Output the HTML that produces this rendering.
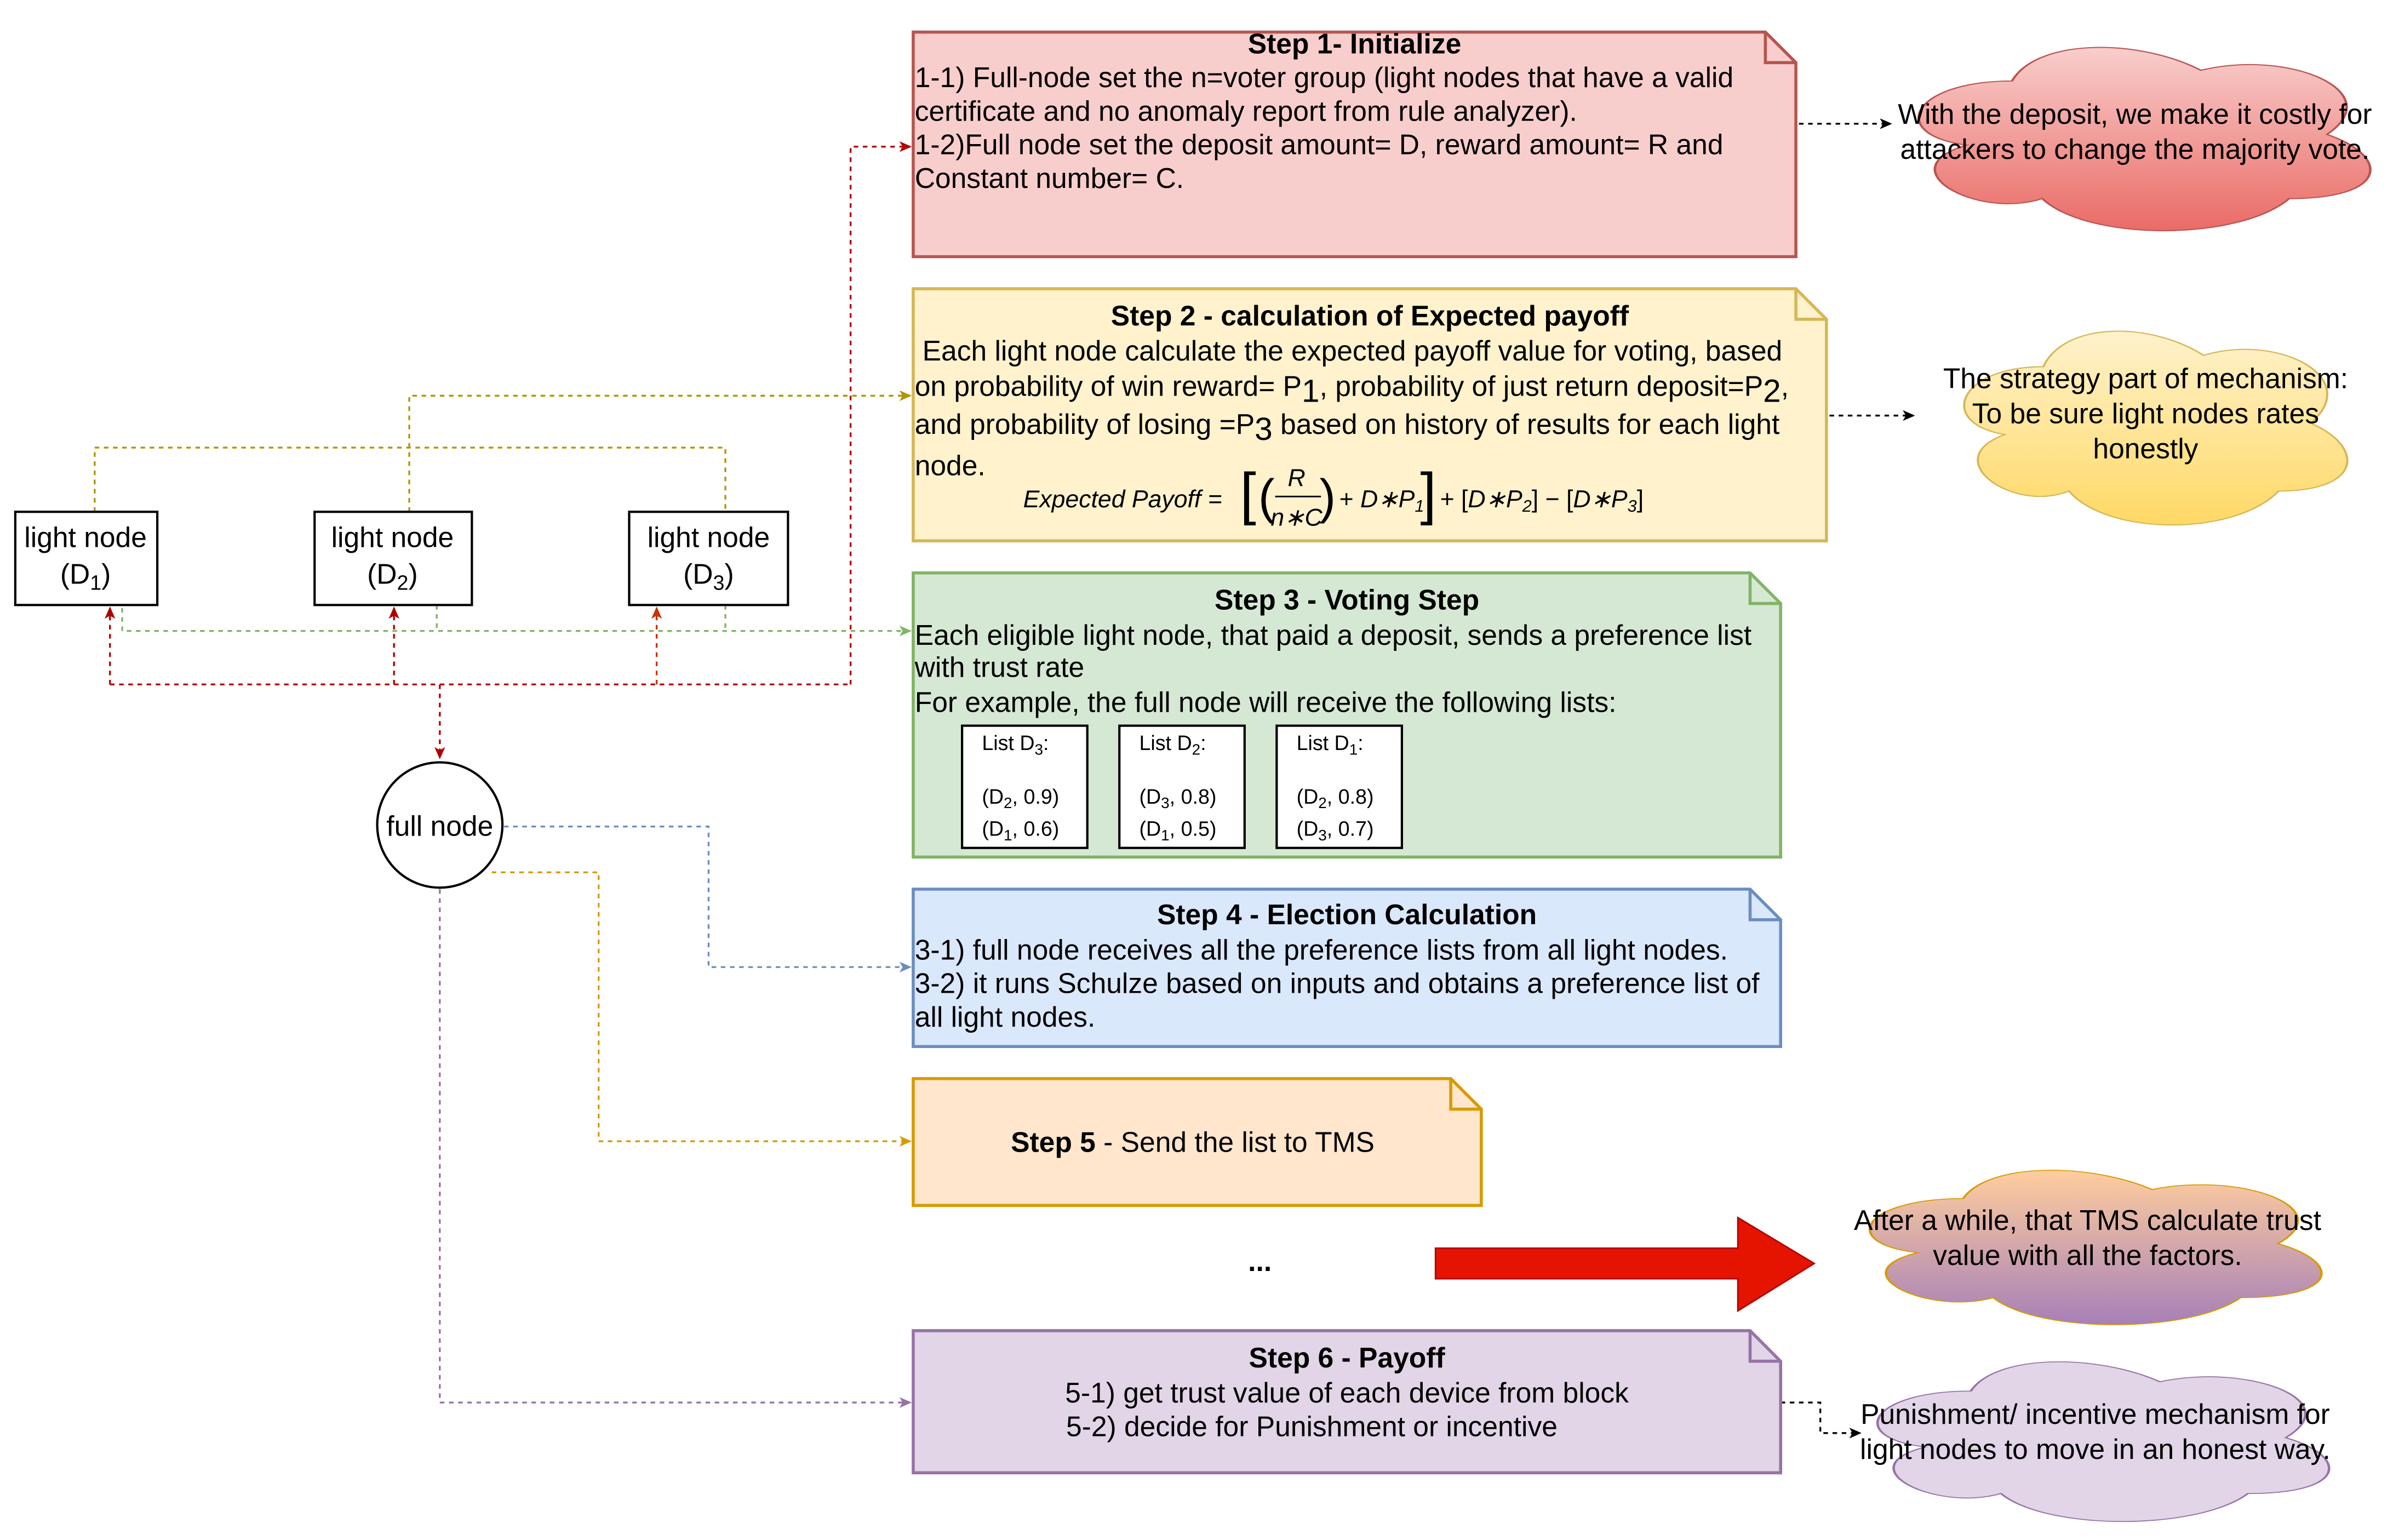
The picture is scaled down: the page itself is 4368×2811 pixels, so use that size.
<!DOCTYPE html>
<html><head><meta charset="utf-8"><style>body{margin:0;background:#fff}svg{display:block}text{font-family:"Liberation Sans",sans-serif;fill:#000}</style></head>
<body>
<svg width="4368" height="2811" viewBox="0 0 1567 1008" preserveAspectRatio="none" xmlns="http://www.w3.org/2000/svg">
<defs>
<marker id="ar" markerWidth="8" markerHeight="8" refX="7" refY="4" orient="auto" markerUnits="userSpaceOnUse"><path d="M0,0.5 L8,4 L0,7.5 L2,4 Z" fill="context-stroke"/></marker>
<linearGradient id="g1" x1="0" y1="0" x2="0" y2="1"><stop offset="0" stop-color="#f8cecc"/><stop offset="1" stop-color="#ea6b66"/></linearGradient>
<linearGradient id="g2" x1="0" y1="0" x2="0" y2="1"><stop offset="0" stop-color="#fff2cc"/><stop offset="1" stop-color="#ffd966"/></linearGradient>
<linearGradient id="g3" x1="0" y1="0" x2="0" y2="1"><stop offset="0" stop-color="#ffcd9e"/><stop offset="1" stop-color="#a680b8"/></linearGradient>
<path id="cl" d="M0.25,0.25 C0.05,0.25 0,0.5 0.16,0.55 C0,0.66 0.18,0.9 0.31,0.8 C0.4,1 0.7,1 0.8,0.8 C1,0.8 1,0.6 0.875,0.5 C1,0.3 0.8,0.1 0.625,0.2 C0.5,0.05 0.3,0.05 0.25,0.25 Z"/>
</defs>
<g fill="none" stroke-width="1.2" stroke-dasharray="3,3">
<path d="M288,448 L288,496" stroke="#b20000" marker-end="url(#ar)"/>
<path d="M72,448 L557,448" stroke="#b20000"/>
<path d="M72,448 L72,398" stroke="#b20000" marker-end="url(#ar)"/>
<path d="M258,448 L258,398" stroke="#b20000" marker-end="url(#ar)"/>
<path d="M430,448 L430,398" stroke="#c73500" marker-end="url(#ar)"/>
<path d="M557,448 L557,96 L596,96" stroke="#b20000" marker-end="url(#ar)"/>
<path d="M62,335 L62,293 L475,293 L475,335" stroke="#b09500"/>
<path d="M268,335 L268,259 L596,259" stroke="#b09500" marker-end="url(#ar)"/>
<path d="M80,398 L80,413 L596,413" stroke="#82b366" marker-end="url(#ar)"/>
<path d="M286,396 L286,413" stroke="#82b366"/>
<path d="M475,396 L475,413" stroke="#82b366"/>
<path d="M330,541 L464,541 L464,633 L596,633" stroke="#6c8ebf" marker-end="url(#ar)"/>
<path d="M322,571 L392,571 L392,747 L596,747" stroke="#d79b00" marker-end="url(#ar)"/>
<path d="M288,582 L288,918 L596,918" stroke="#9673a6" marker-end="url(#ar)"/>
<path d="M1178,81 L1238,81" stroke="#000" marker-end="url(#ar)"/>
<path d="M1198,272 L1253,272" stroke="#000" marker-end="url(#ar)"/>
<path d="M1166,918 L1192,918 L1192,938 L1218,938" stroke="#000" marker-end="url(#ar)"/>
</g>
<g stroke="#000" stroke-width="1.5" fill="#fff">
<rect x="10" y="335" width="93" height="61"/>
<rect x="206" y="335" width="103" height="61"/>
<rect x="412" y="335" width="104" height="61"/>
<circle cx="288" cy="540" r="41"/>
</g>
<g font-size="18.5" text-anchor="middle">
<text x="56" y="358">light node</text><text x="56" y="382">(D<tspan font-size="13.5" dy="4">1</tspan><tspan dy="-4">)</tspan></text>
<text x="257" y="358">light node</text><text x="257" y="382">(D<tspan font-size="13.5" dy="4">2</tspan><tspan dy="-4">)</tspan></text>
<text x="464" y="358">light node</text><text x="464" y="382">(D<tspan font-size="13.5" dy="4">3</tspan><tspan dy="-4">)</tspan></text>
<text x="288" y="547">full node</text>
</g>
<g stroke-width="2">
<path d="M598,21 H1156 L1176,41 V168 H598 Z" fill="#f8cecc" stroke="#b85450"/><path d="M1156,21 V41 H1176" fill="none" stroke="#b85450"/>
<path d="M598,189 H1176 L1196,209 V354 H598 Z" fill="#fff2cc" stroke="#d6b656"/><path d="M1176,189 V209 H1196" fill="none" stroke="#d6b656"/>
<path d="M598,375 H1146 L1166,395 V561 H598 Z" fill="#d5e8d4" stroke="#82b366"/><path d="M1146,375 V395 H1166" fill="none" stroke="#82b366"/>
<path d="M598,582 H1146 L1166,602 V685 H598 Z" fill="#dae8fc" stroke="#6c8ebf"/><path d="M1146,582 V602 H1166" fill="none" stroke="#6c8ebf"/>
<path d="M598,706 H950 L970,726 V789 H598 Z" fill="#ffe6cc" stroke="#d79b00"/><path d="M950,706 V726 H970" fill="none" stroke="#d79b00"/>
<path d="M598,871 H1146 L1166,891 V964 H598 Z" fill="#e1d5e7" stroke="#9673a6"/><path d="M1146,871 V891 H1166" fill="none" stroke="#9673a6"/>
</g>
<g font-size="18.5">
<text x="887" y="35" text-anchor="middle" font-weight="bold">Step 1- Initialize</text>
<text x="599" y="57">1-1) Full-node set the n=voter group (light nodes that have a valid</text>
<text x="599" y="79">certificate and no anomaly report from rule analyzer).</text>
<text x="599" y="101">1-2)Full node set the deposit amount= D, reward amount= R and</text>
<text x="599" y="123">Constant number= C.</text>
<text x="897" y="213" text-anchor="middle" font-weight="bold">Step 2 - calculation of Expected payoff</text>
<text x="604" y="236">Each light node calculate the expected payoff value for voting, based</text>
<text x="599" y="259">on probability of win reward= P<tspan font-size="21" dy="4">1</tspan><tspan dy="-4">, probability of just return deposit=P</tspan><tspan font-size="21" dy="4">2</tspan><tspan dy="-4">,</tspan></text>
<text x="599" y="284">and probability of losing =P<tspan font-size="21" dy="4">3</tspan><tspan dy="-4">  based on history of results for each light</tspan></text>
<text x="599" y="311">node.</text>
<text x="882" y="399" text-anchor="middle" font-weight="bold">Step 3 - Voting Step</text>
<text x="599" y="422">Each eligible light node, that paid a deposit, sends a preference list</text>
<text x="599" y="443">with trust rate</text>
<text x="599" y="466">For example, the full node will receive the following lists:</text>
<text x="882" y="605" text-anchor="middle" font-weight="bold">Step 4 - Election Calculation</text>
<text x="599" y="628">3-1) full node receives all the preference lists from all light nodes.</text>
<text x="599" y="650">3-2) it runs Schulze based on inputs and obtains a preference list of</text>
<text x="599" y="672">all light nodes.</text>
<text x="781" y="754" text-anchor="middle"><tspan font-weight="bold">Step 5</tspan> -  Send the list to TMS</text>
<text x="882" y="895" text-anchor="middle" font-weight="bold">Step 6 - Payoff</text>
<text x="882" y="918" text-anchor="middle">5-1) get trust value of each device from block</text>
<text x="859" y="940" text-anchor="middle">5-2) decide for Punishment or incentive</text>
<text x="825" y="832" text-anchor="middle" font-weight="bold">...</text>
</g>
<g font-family="Liberation Serif" font-size="16" font-style="italic">
<text x="670" y="332" font-family="Liberation Serif">Expected Payoff =</text>
<text x="812" y="336" font-size="38" font-style="normal" font-family="Liberation Serif">[</text>
<text x="824" y="336" font-size="32" font-style="normal" font-family="Liberation Serif">(</text>
<text x="849" y="318" text-anchor="middle" font-family="Liberation Serif">R</text>
<line x1="835" y1="325" x2="865" y2="325" stroke="#000" stroke-width="1"/>
<text x="849" y="344" text-anchor="middle" font-family="Liberation Serif">n∗C</text>
<text x="864" y="336" font-size="32" font-style="normal" font-family="Liberation Serif">)</text>
<text x="877" y="332" font-family="Liberation Serif"><tspan font-style="normal">+</tspan> D∗P<tspan font-size="11" dy="3">1</tspan></text>
<text x="930" y="336" font-size="38" font-style="normal" font-family="Liberation Serif">]</text>
<text x="943" y="332" font-family="Liberation Serif"><tspan font-style="normal">+ [</tspan>D∗P<tspan font-size="11" dy="3">2</tspan><tspan dy="-3" font-style="normal">] − [</tspan>D∗P<tspan font-size="11" dy="3">3</tspan><tspan dy="-3" font-style="normal">]</tspan></text>
</g>
<g stroke="#000" stroke-width="1.5" fill="#fff">
<rect x="630" y="475" width="82" height="80"/><rect x="733" y="475" width="82" height="80"/><rect x="836" y="475" width="82" height="80"/>
</g>
<g font-size="13.5">
<text x="643" y="491">List D<tspan font-size="10" dy="3">3</tspan><tspan dy="-3">:</tspan></text>
<text x="643" y="526">(D<tspan font-size="10" dy="3">2</tspan><tspan dy="-3">, 0.9)</tspan></text>
<text x="643" y="547">(D<tspan font-size="10" dy="3">1</tspan><tspan dy="-3">, 0.6)</tspan></text>
<text x="746" y="491">List D<tspan font-size="10" dy="3">2</tspan><tspan dy="-3">:</tspan></text>
<text x="746" y="526">(D<tspan font-size="10" dy="3">3</tspan><tspan dy="-3">, 0.8)</tspan></text>
<text x="746" y="547">(D<tspan font-size="10" dy="3">1</tspan><tspan dy="-3">, 0.5)</tspan></text>
<text x="849" y="491">List D<tspan font-size="10" dy="3">1</tspan><tspan dy="-3">:</tspan></text>
<text x="849" y="526">(D<tspan font-size="10" dy="3">2</tspan><tspan dy="-3">, 0.8)</tspan></text>
<text x="849" y="547">(D<tspan font-size="10" dy="3">3</tspan><tspan dy="-3">, 0.7)</tspan></text>
</g>
<polygon points="940,817 1138,817 1138,797 1188,827 1138,858 1138,837 940,837" fill="#e51400" stroke="#b20000" stroke-width="1"/>
<use href="#cl" transform="translate(1235,18) scale(330,140)" fill="url(#g1)" stroke="#b85450" stroke-width="0.005"/>
<use href="#cl" transform="translate(1268,203) scale(280,148)" fill="url(#g2)" stroke="#d6b656" stroke-width="0.005"/>
<use href="#cl" transform="translate(1203,755) scale(330,118)" fill="url(#g3)" stroke="#d79b00" stroke-width="0.005"/>
<use href="#cl" transform="translate(1208,880) scale(330,122)" fill="#e1d5e7" stroke="#9673a6" stroke-width="0.005"/>
<g font-size="18.5" text-anchor="middle">
<text x="1398" y="81">With the deposit, we make it costly for</text>
<text x="1398" y="104">attackers to change the majority vote.</text>
<text x="1405" y="254">The strategy part of mechanism:</text>
<text x="1405" y="277">To be sure light nodes rates</text>
<text x="1405" y="300">honestly</text>
<text x="1367" y="805">After a while, that TMS calculate trust</text>
<text x="1367" y="828">value with all the factors.</text>
<text x="1372" y="932">Punishment/ incentive mechanism for</text>
<text x="1372" y="955">light nodes to move in an honest way.</text>
</g>
</svg>
</body></html>
